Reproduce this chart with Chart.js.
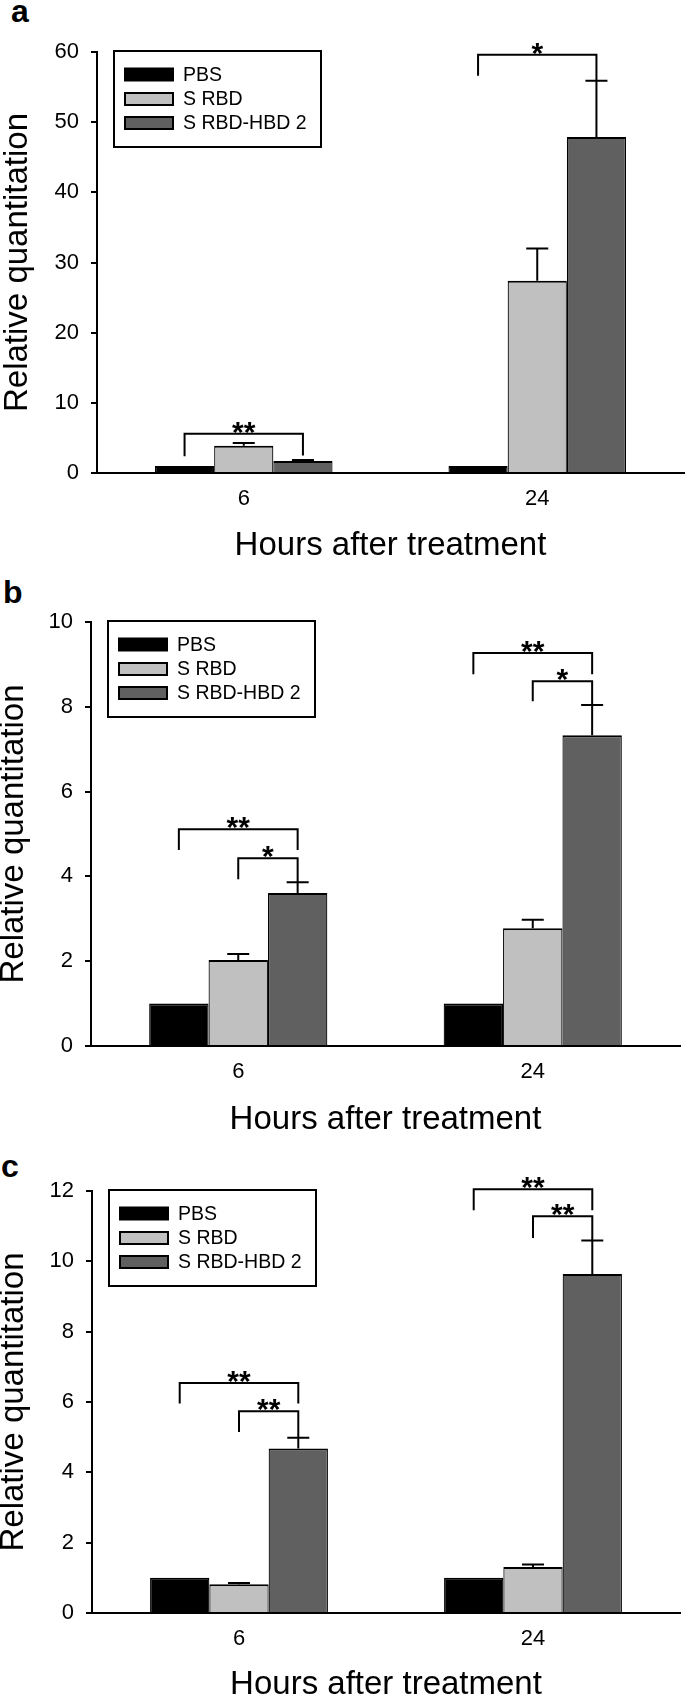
<!DOCTYPE html>
<html>
<head>
<meta charset="utf-8">
<script src="https://cdn.jsdelivr.net/npm/chart.js@4.4.1/dist/chart.umd.min.js"></script>
<style>
html,body{margin:0;padding:0;background:#fff;width:685px;height:1697px;overflow:hidden;position:relative;}
canvas.panel{position:absolute;left:0;}
.letter{position:absolute;font-family:"Liberation Sans",Arial,sans-serif;font-weight:bold;font-size:32px;line-height:32px;color:#000;}
</style>
</head>
<body>
<div class="letter" style="left:11px;top:-5px">a</div>
<div class="letter" style="left:3px;top:576px">b</div>
<div class="letter" style="left:1px;top:1150px">c</div>
<canvas id="ca" class="panel" width="685" height="566" style="top:0px"></canvas>
<canvas id="cb" class="panel" width="685" height="570" style="top:570px"></canvas>
<canvas id="cc" class="panel" width="685" height="566" style="top:1139px"></canvas>
<script>
// ---------- shared ----------
const categories = ['6', '24'];
const seriesNames = ['PBS', 'S RBD', 'S RBD-HBD 2'];
const xTitle = 'Hours after treatment';
const yTitle = 'Relative quantitation';

// ---------- panel a ----------
const aPBS = [1.0, 1.0];
const aSRBD = [3.9, 27.4];
const aHBD = [1.7, 47.9];
const aErrPBS = [0, 0];
const aErrSRBD = [0.38, 4.6];
const aErrHBD = [0.15, 8.0];
const aYMax = 60;
const aYStep = 10;
// [group, fromSeries, toSeries, level, leftEnd, rightEnd, label]
const aSig = [
  [0, 0, 2, 5.6, 2.4, 2.5, '**'],
  [1, 0, 2, 59.6, 56.6, 56.0, '*']
];

// ---------- panel b ----------
const bPBS = [1.0, 1.0];
const bSRBD = [2.03, 2.78];
const bHBD = [3.61, 7.33];
const bErrPBS = [0, 0];
const bErrSRBD = [0.14, 0.20];
const bErrHBD = [0.25, 0.71];
const bYMax = 10;
const bYStep = 2;
const bSig = [
  [0, 0, 2, 5.11, 4.62, 4.62, '**'],
  [0, 1, 2, 4.43, 3.93, 3.87, '*'],
  [1, 0, 2, 9.27, 8.77, 8.77, '**'],
  [1, 1, 2, 8.60, 8.13, 8.05, '*']
];

// ---------- panel c ----------
const cPBS = [1.0, 1.0];
const cSRBD = [0.82, 1.31];
const cHBD = [4.68, 9.64];
const cErrPBS = [0, 0];
const cErrSRBD = [0.03, 0.07];
const cErrHBD = [0.30, 0.95];
const cYMax = 12;
const cYStep = 2;
const cSig = [
  [0, 0, 2, 6.54, 5.96, 5.96, '**'],
  [0, 1, 2, 5.74, 5.15, 5.00, '**'],
  [1, 0, 2, 12.05, 11.45, 11.45, '**'],
  [1, 1, 2, 11.28, 10.66, 10.60, '**']
];

// ---------- styles ----------
const FONT = '"Liberation Sans", Arial, Helvetica, sans-serif';
const fills = ['#000000', '#c0c0c0', '#606060'];

const errorBarPlugin = {
  id: 'errorBars',
  afterDatasetsDraw(chart, args, opts) {
    const ctx = chart.ctx, y = chart.scales.y;
    ctx.save();
    ctx.strokeStyle = '#000';
    ctx.lineWidth = 2;
    chart.data.datasets.forEach((ds, i) => {
      const meta = chart.getDatasetMeta(i);
      meta.data.forEach((bar, j) => {
        const e = ds.errors[j];
        if (!e) return;
        const yt = y.getPixelForValue(ds.data[j] + e);
        ctx.beginPath();
        ctx.moveTo(bar.x, bar.y);
        ctx.lineTo(bar.x, yt);
        ctx.moveTo(bar.x - opts.cap, yt);
        ctx.lineTo(bar.x + opts.cap, yt);
        ctx.stroke();
      });
    });
    ctx.restore();
  }
};

const bracketPlugin = {
  id: 'sigBrackets',
  afterDraw(chart, args, opts) {
    const ctx = chart.ctx, y = chart.scales.y;
    ctx.save();
    ctx.strokeStyle = '#000';
    ctx.lineWidth = 2;
    ctx.fillStyle = '#000';
    ctx.font = 'bold 30px ' + FONT;
    ctx.textAlign = 'center';
    ctx.textBaseline = 'alphabetic';
    opts.items.forEach(([g, s0, s1, lv, le, re, label]) => {
      const x0 = chart.getDatasetMeta(s0).data[g].x;
      const x1 = chart.getDatasetMeta(s1).data[g].x;
      const py = y.getPixelForValue(lv);
      ctx.beginPath();
      ctx.moveTo(x0, y.getPixelForValue(le));
      ctx.lineTo(x0, py);
      ctx.lineTo(x1, py);
      ctx.lineTo(x1, y.getPixelForValue(re));
      ctx.stroke();
      ctx.fillText(label, (x0 + x1) / 2, py + 8);
    });
    ctx.restore();
  }
};

const legendBoxPlugin = {
  id: 'legendBox',
  afterDraw(chart, args, opts) {
    const ctx = chart.ctx, ca = chart.chartArea;
    const bx = ca.left + opts.dx, by = ca.top + opts.dy;
    ctx.save();
    ctx.fillStyle = '#fff';
    ctx.fillRect(bx, by, opts.w, opts.h);
    ctx.strokeStyle = '#000';
    ctx.lineWidth = 2;
    ctx.strokeRect(bx, by, opts.w, opts.h);
    ctx.font = opts.fontSize + 'px ' + FONT;
    ctx.textBaseline = 'middle';
    ctx.textAlign = 'left';
    chart.data.datasets.forEach((ds, i) => {
      const cy = by + opts.rows[i];
      ctx.fillStyle = ds.backgroundColor;
      ctx.fillRect(bx + opts.sx, cy - opts.sh / 2, opts.sw, opts.sh);
      ctx.strokeRect(bx + opts.sx, cy - opts.sh / 2, opts.sw, opts.sh);
      ctx.fillStyle = '#000';
      ctx.fillText(ds.label, bx + opts.tx, cy + 1);
    });
    ctx.restore();
  }
};

function makePanel(id, L, T, B, R, H, pbs, srbd, hbd, errs, yMax, yStep, sig, yTitlePad) {
  const values = [pbs, srbd, hbd];
  const datasets = seriesNames.map((name, i) => ({
    label: name,
    data: values[i],
    errors: errs[i],
    backgroundColor: fills[i],
    borderColor: '#000',
    borderWidth: {top: 2, left: 1.2, right: 1.2, bottom: 0},
    borderSkipped: 'bottom',
    barPercentage: 1.0,
    categoryPercentage: 0.605
  }));
  return new Chart(document.getElementById(id), {
    type: 'bar',
    data: {labels: categories, datasets},
    plugins: [errorBarPlugin, bracketPlugin, legendBoxPlugin],
    options: {
      responsive: false,
      animation: false,
      devicePixelRatio: 1,
      layout: {padding: {top: T, right: 685 - R, left: 0, bottom: 0}},
      plugins: {
        legend: {display: false},
        tooltip: {enabled: false},
        errorBars: {cap: 11},
        sigBrackets: {items: sig},
        legendBox: {dx: 17, dy: -1, w: 207, h: 96, sx: 11, sw: 48, sh: 12, tx: 69, rows: [23.5, 48, 72], fontSize: 19.5}
      },
      scales: {
        x: {
          grid: {display: false, drawTicks: false},
          border: {display: true, color: '#000', width: 2},
          ticks: {color: '#000', font: {family: FONT, size: 22}, padding: 13},
          title: {display: true, text: xTitle, color: '#000', font: {family: FONT, size: 33}, padding: {top: 0, bottom: 0}},
          afterFit(s) { s.height = H - B; }
        },
        y: {
          min: 0,
          max: yMax,
          ticks: {stepSize: yStep, color: '#000', font: {family: FONT, size: 22}, padding: 12},
          grid: {drawOnChartArea: false, drawTicks: true, tickLength: 6, color: '#000', lineWidth: 2},
          border: {display: true, color: '#000', width: 2},
          title: {display: true, text: yTitle, color: '#000', font: {family: FONT, size: 33, lineHeight: 1}, padding: {top: yTitlePad, bottom: 0}},
          afterFit(s) { s.width = L; }
        }
      }
    }
  });
}

makePanel('ca', 97, 52, 473, 684, 566, aPBS, aSRBD, aHBD, [aErrPBS, aErrSRBD, aErrHBD], aYMax, aYStep, aSig, 1);
makePanel('cb', 91, 52, 476, 680, 570, bPBS, bSRBD, bHBD, [bErrPBS, bErrSRBD, bErrHBD], bYMax, bYStep, bSig, -3);
makePanel('cc', 92, 52, 474, 680, 566, cPBS, cSRBD, cHBD, [cErrPBS, cErrSRBD, cErrHBD], cYMax, cYStep, cSig, -3);
</script>
</body>
</html>
